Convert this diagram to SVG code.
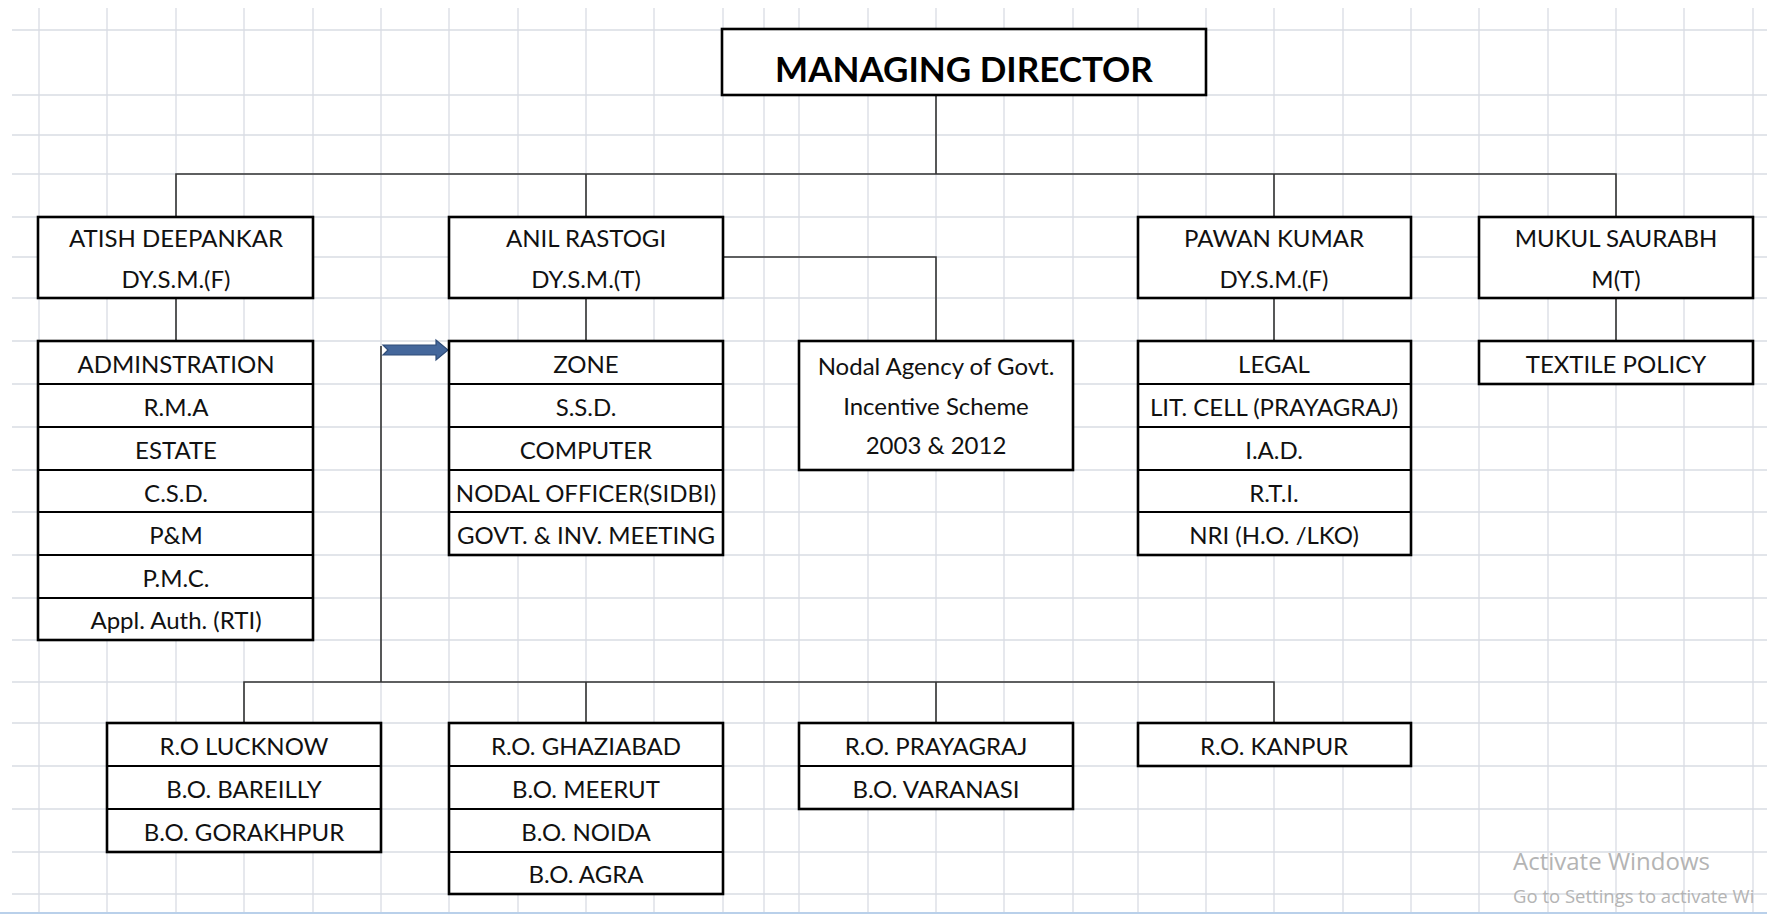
<svg xmlns="http://www.w3.org/2000/svg" width="1767" height="915" viewBox="0 0 1767 915">
<style>
.g line{stroke:#d9dce3;stroke-width:1.3}
.box{fill:#fff;stroke:#000;stroke-width:2.6}
.dv{stroke:#000;stroke-width:2.2}
.conn{fill:none;stroke:#333;stroke-width:1.6}
.t{font-family:Lato,"Liberation Sans",sans-serif;font-size:24px;fill:#111;text-anchor:middle}
.title{font-family:Lato,"Liberation Sans",sans-serif;font-size:35px;font-weight:bold;fill:#000;text-anchor:middle}
.wm{font-family:"Open Sans","Liberation Sans",sans-serif;fill:#b4b4b4}
</style>
<rect width="1767" height="915" fill="#fff"/>
<g class="g" id="grid">
<line x1="39" y1="8" x2="39" y2="913"/><line x1="107" y1="8" x2="107" y2="913"/><line x1="176" y1="8" x2="176" y2="913"/><line x1="244" y1="8" x2="244" y2="913"/><line x1="313" y1="8" x2="313" y2="913"/><line x1="381" y1="8" x2="381" y2="913"/><line x1="449" y1="8" x2="449" y2="913"/><line x1="518" y1="8" x2="518" y2="913"/><line x1="586" y1="8" x2="586" y2="913"/><line x1="654" y1="8" x2="654" y2="913"/><line x1="723" y1="8" x2="723" y2="913"/><line x1="764" y1="8" x2="764" y2="913"/><line x1="799" y1="8" x2="799" y2="913"/><line x1="868" y1="8" x2="868" y2="913"/><line x1="936" y1="8" x2="936" y2="913"/><line x1="1004" y1="8" x2="1004" y2="913"/><line x1="1073" y1="8" x2="1073" y2="913"/><line x1="1138" y1="8" x2="1138" y2="913"/><line x1="1206" y1="8" x2="1206" y2="913"/><line x1="1274" y1="8" x2="1274" y2="913"/><line x1="1343" y1="8" x2="1343" y2="913"/><line x1="1411" y1="8" x2="1411" y2="913"/><line x1="1479" y1="8" x2="1479" y2="913"/><line x1="1548" y1="8" x2="1548" y2="913"/><line x1="1616" y1="8" x2="1616" y2="913"/><line x1="1684" y1="8" x2="1684" y2="913"/><line x1="1753" y1="8" x2="1753" y2="913"/>
<line x1="12" y1="30" x2="1767" y2="30"/><line x1="12" y1="95" x2="1767" y2="95"/><line x1="12" y1="135" x2="1767" y2="135"/><line x1="12" y1="174" x2="1767" y2="174"/><line x1="12" y1="217" x2="1767" y2="217"/><line x1="12" y1="257" x2="1767" y2="257"/><line x1="12" y1="298" x2="1767" y2="298"/><line x1="12" y1="341" x2="1767" y2="341"/><line x1="12" y1="384" x2="1767" y2="384"/><line x1="12" y1="427" x2="1767" y2="427"/><line x1="12" y1="470" x2="1767" y2="470"/><line x1="12" y1="512" x2="1767" y2="512"/><line x1="12" y1="555" x2="1767" y2="555"/><line x1="12" y1="598" x2="1767" y2="598"/><line x1="12" y1="640" x2="1767" y2="640"/><line x1="12" y1="682" x2="1767" y2="682"/><line x1="12" y1="723" x2="1767" y2="723"/><line x1="12" y1="766" x2="1767" y2="766"/><line x1="12" y1="809" x2="1767" y2="809"/><line x1="12" y1="852" x2="1767" y2="852"/><line x1="12" y1="894" x2="1767" y2="894"/>
</g>
<line x1="0" y1="913" x2="1767" y2="913" stroke="#b9d0ea" stroke-width="2"/>

<g id="connectors" class="conn">
<path d="M936 95V174"/>
<path d="M176 217V174H1616V217"/>
<path d="M586 174V217"/>
<path d="M1274 174V217"/>
<path d="M176 298V341"/>
<path d="M586 298V341"/>
<path d="M723 257H936V341"/>
<path d="M1274 298V341"/>
<path d="M1616 298V341"/>
<path d="M381 346V682"/>
<path d="M244 723V682H1274V723"/>
<path d="M586 682V723"/>
<path d="M936 682V723"/>
<polygon points="383,345 436,345 436,340 448,350 436,360 436,355 383,355 388,350" fill="#44679b" stroke="#2e4c78" stroke-width="1.2"/>
</g>

<g id="md">
<rect class="box" x="722" y="29" width="484" height="66"/>
<text class="title" x="964" y="82">MANAGING DIRECTOR</text>
</g>

<g id="atish">
<rect class="box" x="38" y="217" width="275" height="81"/>
<text class="t" x="176" y="247">ATISH DEEPANKAR</text>
<text class="t" x="176" y="288">DY.S.M.(F)</text>
</g>

<g id="anil">
<rect class="box" x="449" y="217" width="274" height="81"/>
<text class="t" x="586" y="247">ANIL RASTOGI</text>
<text class="t" x="586" y="288">DY.S.M.(T)</text>
</g>

<g id="pawan">
<rect class="box" x="1138" y="217" width="273" height="81"/>
<text class="t" x="1274" y="247">PAWAN KUMAR</text>
<text class="t" x="1274" y="288">DY.S.M.(F)</text>
</g>

<g id="mukul">
<rect class="box" x="1479" y="217" width="274" height="81"/>
<text class="t" x="1616" y="247">MUKUL SAURABH</text>
<text class="t" x="1616" y="288">M(T)</text>
</g>

<g id="admin">
<rect class="box" x="38" y="341" width="275" height="299"/>
<line class="dv" x1="38" y1="384" x2="313" y2="384"/><line class="dv" x1="38" y1="427" x2="313" y2="427"/><line class="dv" x1="38" y1="470" x2="313" y2="470"/><line class="dv" x1="38" y1="512" x2="313" y2="512"/><line class="dv" x1="38" y1="555" x2="313" y2="555"/><line class="dv" x1="38" y1="598" x2="313" y2="598"/>
<text class="t" x="176" y="373">ADMINSTRATION</text>
<text class="t" x="176" y="416">R.M.A</text>
<text class="t" x="176" y="459">ESTATE</text>
<text class="t" x="176" y="502">C.S.D.</text>
<text class="t" x="176" y="544">P&amp;M</text>
<text class="t" x="176" y="587">P.M.C.</text>
<text class="t" x="176" y="629">Appl. Auth. (RTI)</text>
</g>

<g id="zone">
<rect class="box" x="449" y="341" width="274" height="214"/>
<line class="dv" x1="449" y1="384" x2="723" y2="384"/><line class="dv" x1="449" y1="427" x2="723" y2="427"/><line class="dv" x1="449" y1="470" x2="723" y2="470"/><line class="dv" x1="449" y1="512" x2="723" y2="512"/>
<text class="t" x="586" y="373">ZONE</text>
<text class="t" x="586" y="416">S.S.D.</text>
<text class="t" x="586" y="459">COMPUTER</text>
<text class="t" x="586" y="502">NODAL OFFICER(SIDBI)</text>
<text class="t" x="586" y="544">GOVT. &amp; INV. MEETING</text>
</g>

<g id="nodal">
<rect class="box" x="799" y="341" width="274" height="129"/>
<text class="t" x="936" y="375">Nodal Agency of Govt.</text>
<text class="t" x="936" y="415">Incentive Scheme</text>
<text class="t" x="936" y="454">2003 &amp; 2012</text>
</g>

<g id="legal">
<rect class="box" x="1138" y="341" width="273" height="214"/>
<line class="dv" x1="1138" y1="384" x2="1411" y2="384"/><line class="dv" x1="1138" y1="427" x2="1411" y2="427"/><line class="dv" x1="1138" y1="470" x2="1411" y2="470"/><line class="dv" x1="1138" y1="512" x2="1411" y2="512"/>
<text class="t" x="1274" y="373">LEGAL</text>
<text class="t" x="1274" y="416">LIT. CELL (PRAYAGRAJ)</text>
<text class="t" x="1274" y="459">I.A.D.</text>
<text class="t" x="1274" y="502">R.T.I.</text>
<text class="t" x="1274" y="544">NRI (H.O. /LKO)</text>
</g>

<g id="textile">
<rect class="box" x="1479" y="341" width="274" height="43"/>
<text class="t" x="1616" y="373">TEXTILE POLICY</text>
</g>

<g id="lucknow">
<rect class="box" x="107" y="723" width="274" height="129"/>
<line class="dv" x1="107" y1="766" x2="381" y2="766"/><line class="dv" x1="107" y1="809" x2="381" y2="809"/>
<text class="t" x="244" y="755">R.O LUCKNOW</text>
<text class="t" x="244" y="798">B.O. BAREILLY</text>
<text class="t" x="244" y="841">B.O. GORAKHPUR</text>
</g>

<g id="ghaziabad">
<rect class="box" x="449" y="723" width="274" height="171"/>
<line class="dv" x1="449" y1="766" x2="723" y2="766"/><line class="dv" x1="449" y1="809" x2="723" y2="809"/><line class="dv" x1="449" y1="852" x2="723" y2="852"/>
<text class="t" x="586" y="755">R.O. GHAZIABAD</text>
<text class="t" x="586" y="798">B.O. MEERUT</text>
<text class="t" x="586" y="841">B.O. NOIDA</text>
<text class="t" x="586" y="883">B.O. AGRA</text>
</g>

<g id="prayagraj">
<rect class="box" x="799" y="723" width="274" height="86"/>
<line class="dv" x1="799" y1="766" x2="1073" y2="766"/>
<text class="t" x="936" y="755">R.O. PRAYAGRAJ</text>
<text class="t" x="936" y="798">B.O. VARANASI</text>
</g>

<g id="kanpur">
<rect class="box" x="1138" y="723" width="273" height="43"/>
<text class="t" x="1274" y="755">R.O. KANPUR</text>
</g>

<text class="wm" x="1513" y="870" font-size="24">Activate Windows</text>
<text class="wm" x="1513" y="903" font-size="18.5">Go to Settings to activate Wi</text>
</svg>
